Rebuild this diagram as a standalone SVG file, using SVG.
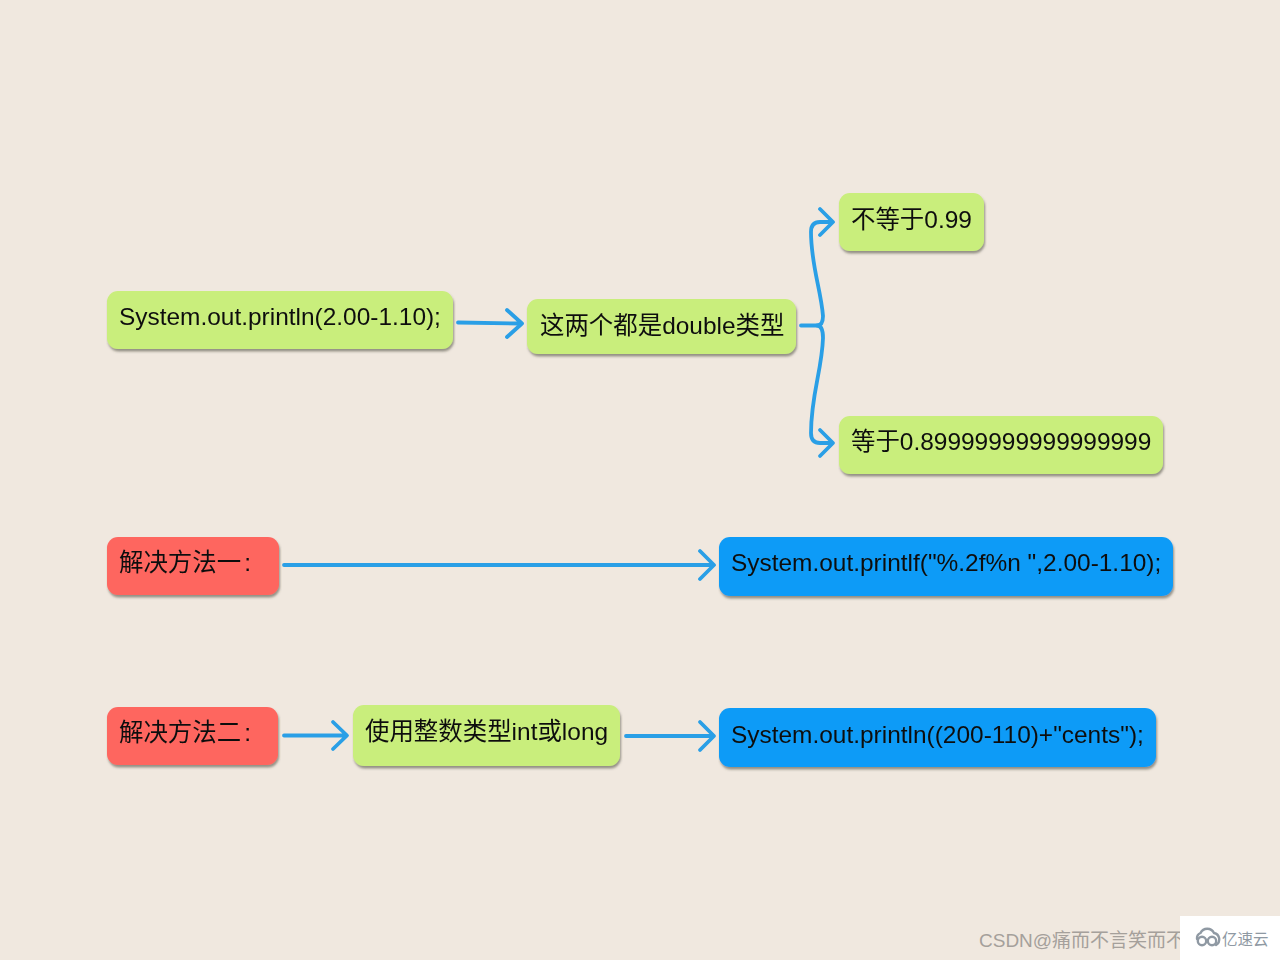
<svg xmlns="http://www.w3.org/2000/svg" width="1280" height="960" viewBox="0 0 1280 960">
<defs>
<filter id="sh" x="-10%" y="-20%" width="120%" height="140%"><feDropShadow dx="1" dy="2.5" stdDeviation="1.3" flood-color="#4a4a3a" flood-opacity="0.55"/></filter>
</defs>
<style>
.n{filter:url(#sh)}
.g{fill:#c9ee7b}
.r{fill:#fe665f}
.b{fill:#0f9bf7}
text{font-family:"Liberation Sans","Noto Sans CJK SC",sans-serif;font-size:24.45px;fill:#111}
.c{fill:none;stroke:#2a9fe6;stroke-width:3.8;stroke-linecap:round;stroke-linejoin:round}
</style>
<rect width="1280" height="960" fill="#f0e8df"/>
<g id="connectors">
<path class="c" d="M458 322.500L520 323.500M507 310L522 323.500L507 337"/>
<path class="c" d="M801 325.500H817Q823 325.500 823 316C821 290 811 265 811 232Q811 222 820 222H832M820 209L833 222L820 235"/>
<path class="c" d="M817 325.500Q823 325.500 823 338C822 370 811 395 811 433Q811 443 820 443H832M820 430L833 443L820 456"/>
<path class="c" d="M284 565H712M700 551L714 565L700 579"/>
<path class="c" d="M284 735.500H345M333 722L347 735.500L333 749"/>
<path class="c" d="M626 736H712M700 722L714 736L700 750"/>
</g>
<g id="n1" class="n"><rect class="g" x="107" y="291" width="346" height="58" rx="11"/><text x="119" y="325">System.out.println(2.00-1.10);</text></g>
<g id="n2" class="n"><rect class="g" x="527" y="299" width="269" height="55" rx="11"/><text x="540" y="334">这两个都是double类型</text></g>
<g id="n3" class="n"><rect class="g" x="839" y="193" width="145" height="58" rx="11"/><text x="851" y="228">不等于0.99</text></g>
<g id="n4" class="n"><rect class="g" x="839" y="416" width="324" height="58" rx="11"/><text x="851" y="450">等于0.89999999999999999</text></g>
<g id="n5" class="n"><rect class="r" x="107" y="537" width="172" height="58" rx="11"/><text x="119" y="571">解决方法一<tspan dx="3">:</tspan></text></g>
<g id="n6" class="n"><rect class="b" x="719" y="537" width="454" height="59" rx="11"/><text x="731" y="571">System.out.printlf("%.2f%n ",2.00-1.10);</text></g>
<g id="n7" class="n"><rect class="r" x="107" y="707" width="171" height="58" rx="11"/><text x="119" y="741">解决方法二<tspan dx="3">:</tspan></text></g>
<g id="n8" class="n"><rect class="g" x="353" y="705" width="267" height="61" rx="11"/><text x="365" y="740">使用整数类型int或long</text></g>
<g id="n9" class="n"><rect class="b" x="719" y="708" width="437" height="59" rx="11"/><text x="731" y="743">System.out.println((200-110)+"cents");</text></g>
<g id="watermark">
<text x="979" y="947" style="font-size:19px;fill:#a5a09b">CSDN@痛而不言笑而不</text>
<rect x="1180" y="916" width="100" height="44" fill="#fff"/>
<g fill="none" stroke="#8f99a3" stroke-width="2.400" stroke-linecap="round">
<path d="M1197 939A6 6 0 0 1 1200.500 933A7.500 7.500 0 0 1 1214 933A6.500 6.500 0 0 1 1216 945"/>
<circle cx="1202" cy="941" r="4.200"/>
<circle cx="1212" cy="941" r="4.200"/>
</g>
<text x="1222" y="945" style="font-size:15.500px;fill:#8f99a3">亿速云</text>
</g>
</svg>
